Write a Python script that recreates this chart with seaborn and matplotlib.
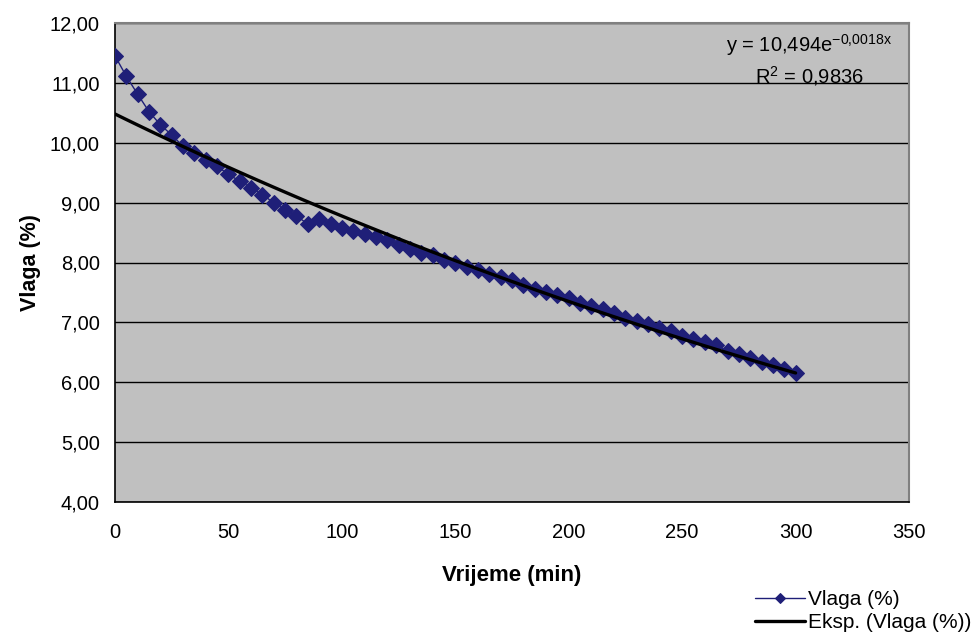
import numpy as np
import pandas as pd
import matplotlib.pyplot as plt
import seaborn as sns

sns.set_theme(style="white")
plt.rcParams['font.family'] = ['Liberation Sans', 'DejaVu Sans']
plt.rcParams['mathtext.default'] = 'regular'
plt.rcParams['text.color'] = 'black'
plt.rcParams['axes.labelcolor'] = 'black'
plt.rcParams['xtick.color'] = 'black'
plt.rcParams['ytick.color'] = 'black'

# vrijeme (min) i vlaga (%)
vrijeme = list(range(0, 305, 5))
vlaga = [11.45, 11.11, 10.81, 10.52, 10.30, 10.13, 9.94, 9.83, 9.72, 9.61,
         9.47, 9.36, 9.25, 9.13, 9.00, 8.88, 8.78, 8.64, 8.72, 8.64,
         8.58, 8.53, 8.48, 8.42, 8.37, 8.30, 8.23, 8.16, 8.12, 8.05,
         8.00, 7.92, 7.87, 7.81, 7.76, 7.70, 7.62, 7.56, 7.51, 7.46,
         7.41, 7.32, 7.27, 7.22, 7.16, 7.08, 7.02, 6.97, 6.91, 6.86,
         6.77, 6.72, 6.67, 6.62, 6.52, 6.47, 6.41, 6.33, 6.28, 6.22,
         6.15]

df = pd.DataFrame({'Vrijeme (min)': vrijeme, 'Vlaga (%)': vlaga})

# eksponencijalni trend (fit na log vrijednosti)
b, ln_a = np.polyfit(df['Vrijeme (min)'], np.log(df['Vlaga (%)']), 1)
df['trend'] = np.exp(ln_a) * np.exp(b * df['Vrijeme (min)'])

fig = plt.figure(figsize=(9.75, 6.36), dpi=100)
ax = fig.add_axes([115/975, 1 - 502/636, (909 - 115)/975, (502 - 23)/636])
ax.set_facecolor('#C0C0C0')

navy = '#1F1F78'
sns.lineplot(data=df, x='Vrijeme (min)', y='Vlaga (%)', ax=ax, color=navy,
             linewidth=1, marker='D', markersize=8, markeredgecolor=navy,
             label='Vlaga (%)', zorder=3)
sns.lineplot(data=df, x='Vrijeme (min)', y='trend', ax=ax, color='black',
             linewidth=2.4, label='Eksp. (Vlaga (%))', zorder=4)

ax.set_xlim(0, 350)
ax.set_ylim(4, 12)
ax.set_xticks(range(0, 351, 50))
ax.set_yticks(range(4, 13))
ax.set_yticklabels([f'{v:.2f}'.replace('.', ',') for v in range(4, 13)])
ax.yaxis.grid(True, color='black', linewidth=1)
ax.xaxis.grid(False)
ax.set_axisbelow(True)

for s in ['left', 'bottom']:
    ax.spines[s].set_color('black')
    ax.spines[s].set_linewidth(1.2)
for s in ['top', 'right']:
    ax.spines[s].set_color('#808080')
    ax.spines[s].set_linewidth(1.5)

ax.tick_params(axis='both', direction='out', length=5, width=1,
               color='black', labelsize=14.5, pad=6)
ax.tick_params(axis='x', pad=10)

ax.set_xlabel('Vrijeme (min)', fontsize=16, fontweight='bold', labelpad=17)
ax.set_ylabel('Vlaga (%)', fontsize=15.5, fontweight='bold', labelpad=6)

ax.text(306, 11.63, r'y = 10,494e$^{-0{,}0018x}$', ha='center', va='center',
        fontsize=14.5)
ax.text(306, 11.12, r'R$^2$ = 0,9836', ha='center', va='center',
        fontsize=14.5)

ax.legend_.remove()
handles, labels = ax.get_legend_handles_labels()
fig.legend(handles, labels, loc='upper left',
           bbox_to_anchor=(747/975, 1 - 582/636), frameon=False,
           fontsize=15, handlelength=2.4, handletextpad=0.15,
           labelspacing=0.2, borderaxespad=0, markerscale=0.7)

fig.savefig('out.png', dpi=100)
